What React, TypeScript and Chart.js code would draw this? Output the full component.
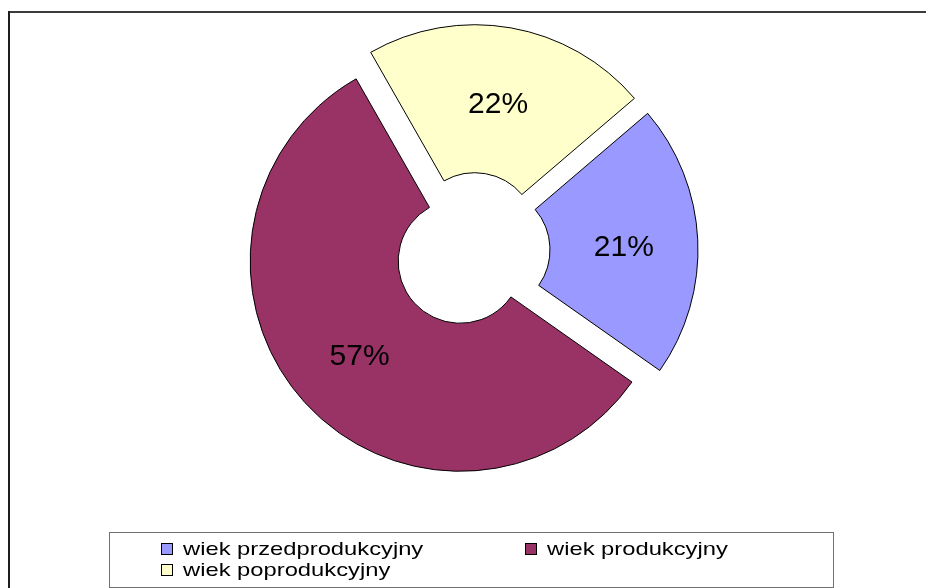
import React, { useEffect, useRef } from 'react';
import { Chart, registerables } from 'chart.js';

Chart.register(...registerables);

// ---- data ----
const categories: string[] = ['wiek przedprodukcyjny', 'wiek produkcyjny', 'wiek poprodukcyjny'];
const values: number[] = [21, 57, 22];
const colors: string[] = ['#9999FF', '#993366', '#FFFFCC'];

// ---- styling constants ----
const EXPLODE = 16;
const FONT = '"Liberation Sans", Arial, sans-serif';

const explodePlugin = {
  id: 'explodeSlices',
  beforeDatasetDraw(chart: any, args: any) {
    const ctx = chart.ctx;
    const meta = args.meta;
    meta.data.forEach((el: any) => {
      const half = (el.startAngle + el.endAngle) / 2;
      ctx.save();
      ctx.translate(Math.cos(half) * EXPLODE, Math.sin(half) * EXPLODE);
      el.draw(ctx);
      ctx.restore();
    });
    return false;
  },
  afterDatasetsDraw(chart: any) {
    const ctx = chart.ctx;
    const meta = chart.getDatasetMeta(0);
    const total = values.reduce((a, b) => a + b, 0);
    ctx.save();
    ctx.font = `30px ${FONT}`;
    ctx.fillStyle = '#000';
    ctx.textAlign = 'center';
    ctx.textBaseline = 'middle';
    meta.data.forEach((el: any, i: number) => {
      const half = (el.startAngle + el.endAngle) / 2;
      const r = (el.innerRadius + el.outerRadius) / 2 + EXPLODE;
      const x = el.x + Math.cos(half) * r;
      const y = el.y + Math.sin(half) * r;
      ctx.fillText(Math.round((values[i] / total) * 100) + '%', x, y + 4);
    });
    ctx.restore();
  },
  afterDraw(chart: any) {
    const ctx = chart.ctx;
    ctx.save();
    // outer frame (top and left visible)
    ctx.lineWidth = 2;
    ctx.strokeStyle = '#3c3c3c';
    ctx.beginPath();
    ctx.moveTo(9, 12);
    ctx.lineTo(926, 12);
    ctx.stroke();
    ctx.strokeStyle = '#1e1e1e';
    ctx.beginPath();
    ctx.moveTo(9, 11);
    ctx.lineTo(9, 588);
    ctx.stroke();

    // legend box
    ctx.lineWidth = 1;
    ctx.strokeStyle = '#707070';
    ctx.fillStyle = '#ffffff';
    ctx.fillRect(109.5, 532.5, 724, 55);
    ctx.strokeRect(109.5, 532.5, 724, 55);

    const colX = [161, 525];
    const rowY = [549, 570];
    categories.forEach((label, i) => {
      const col = i % 2;
      const row = Math.floor(i / 2);
      const bx = colX[col];
      const cy = rowY[row];
      ctx.fillStyle = colors[i];
      ctx.fillRect(bx + 0.5, cy - 5.5, 11, 11);
      ctx.strokeStyle = '#000';
      ctx.lineWidth = 1;
      ctx.strokeRect(bx + 0.5, cy - 5.5, 11, 11);
      ctx.save();
      ctx.translate(bx + 22, cy);
      ctx.scale(1.25, 1);
      ctx.font = `19px ${FONT}`;
      ctx.fillStyle = '#000';
      ctx.textAlign = 'left';
      ctx.textBaseline = 'middle';
      ctx.fillText(label, 0, 1);
      ctx.restore();
    });
    ctx.restore();
  },
};

export default function App() {
  const canvasRef = useRef<HTMLCanvasElement | null>(null);

  useEffect(() => {
    if (!canvasRef.current) return;
    const chart = new Chart(canvasRef.current, {
      type: 'doughnut',
      data: {
        labels: categories,
        datasets: [
          {
            data: values,
            backgroundColor: colors,
            borderColor: '#000000',
            borderWidth: 1,
            hoverBorderWidth: 1,
            offset: 0,
            hoverOffset: 0,
            borderJoinStyle: 'miter',
          },
        ],
      },
      options: {
        responsive: false,
        animation: false,
        events: [],
        rotation: 49.5,
        cutout: 62,
        layout: {
          padding: { left: 222, right: 204, top: 40, bottom: 127 },
        },
        plugins: {
          legend: { display: false },
          tooltip: { enabled: false },
        },
      } as any,
      plugins: [explodePlugin as any],
    });
    return () => chart.destroy();
  }, []);

  return (
    <div style={{ position: 'fixed', left: 0, top: 0, width: 926, height: 588, background: '#fff' }}>
      <canvas ref={canvasRef} width={926} height={588} style={{ display: 'block' }} />
    </div>
  );
}
